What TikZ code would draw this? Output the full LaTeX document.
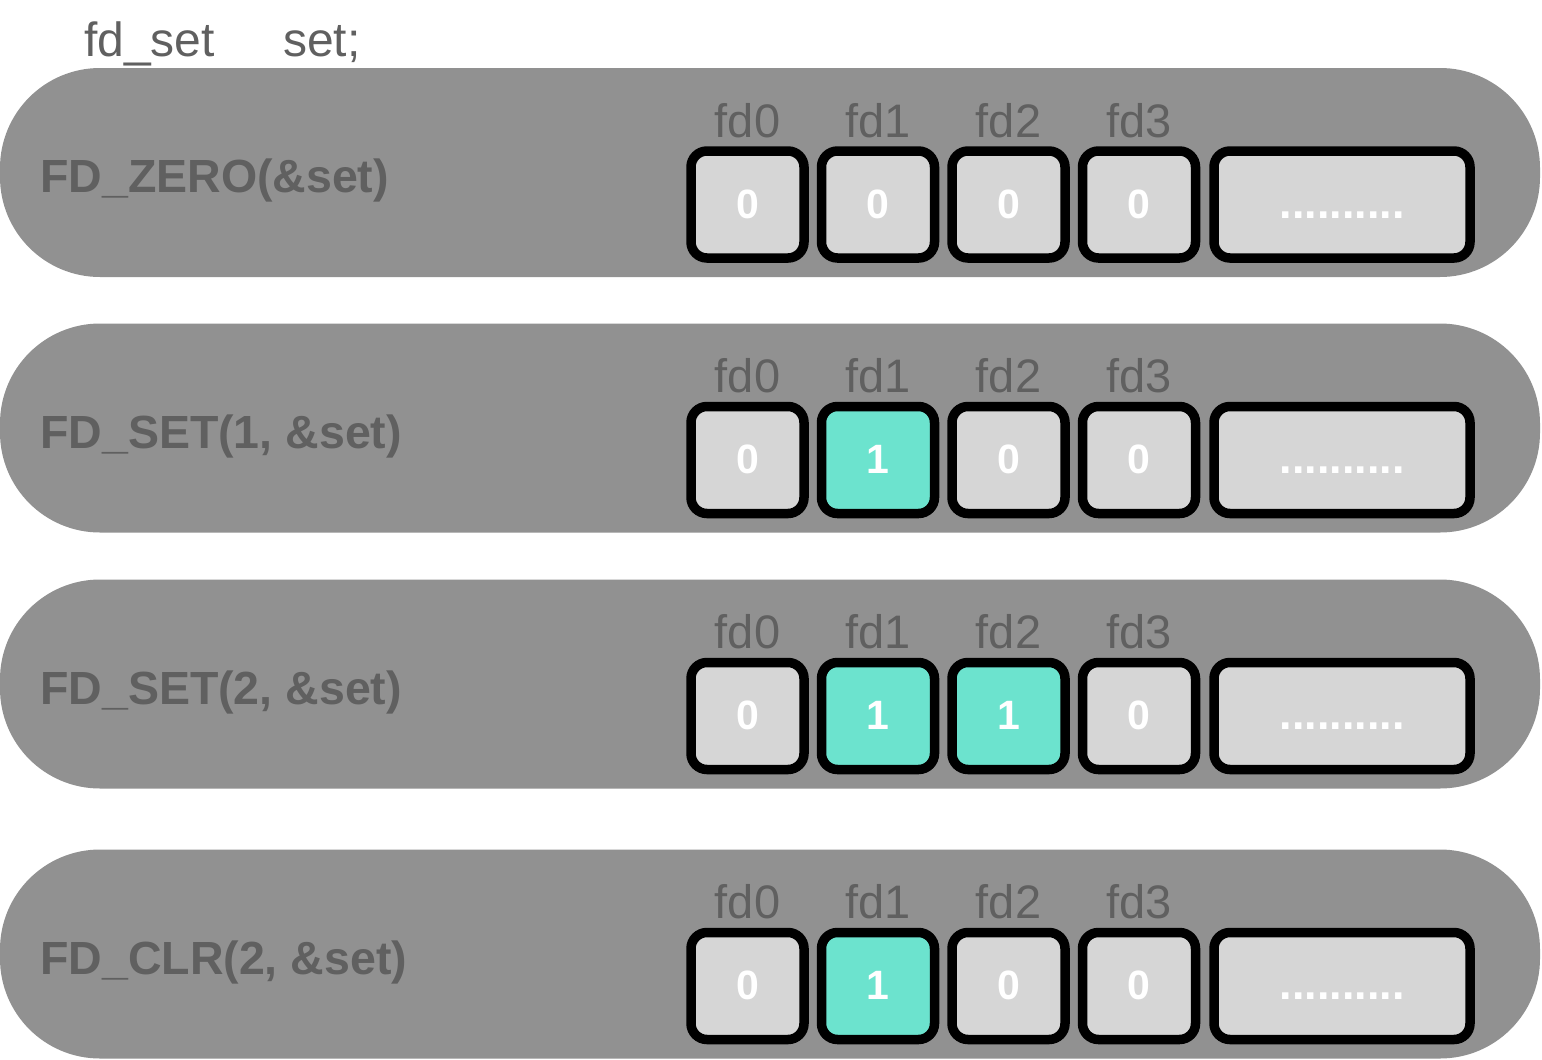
\documentclass[tikz,border=0pt]{standalone}
\usepackage{fontspec}
\setmainfont{Liberation Sans}
\usetikzlibrary{positioning}
\definecolor{bandgray}{HTML}{919191}
\definecolor{textgray}{HTML}{606060}
\definecolor{cellgray}{HTML}{D6D6D6}
\definecolor{setteal}{HTML}{6CE3CE}
\tikzset{
band/.style={fill=bandgray,rounded corners=100pt,minimum width=1540pt,minimum height=209pt,inner sep=0pt},
decl/.style={anchor=base west,text=textgray,font=\fontsize{48}{54}\selectfont,inner sep=0pt},
oplabel/.style={anchor=base west,text=textgray,font=\fontsize{46.5}{54}\selectfont\bfseries,inner sep=0pt},
fdlabel/.style={anchor=base,text=textgray,font=\fontsize{47}{54}\selectfont,inner sep=0pt},
cell/.style={draw=black,line width=9.5pt,rounded corners=16pt,minimum width=113pt,minimum height=107pt,text=white,font=\fontsize{41}{46}\selectfont\bfseries,text height=27pt,text depth=0pt,inner sep=0pt},
bigcell/.style={cell,minimum width=256pt,fill=cellgray,font=\fontsize{45}{50}\selectfont\bfseries},
bit0/.style={fill=cellgray},
bit1/.style={fill=setteal}
}
\begin{document}
\begin{tikzpicture}[x=1pt,y=-1pt,node distance=8pt]
\useasboundingbox (0,0) rectangle (1542,1060);
\node[decl] (decltype) at (84,56) {fd\_set};
\node[decl] (declvar) at (283,56) {set;};
\foreach \r/\yc/\op/\a/\b/\c/\d in {1/172.5/{FD\_ZERO(\&set)}/0/0/0/0,
  2/428/{FD\_SET(1, \&set)}/0/1/0/0,
  3/684/{FD\_SET(2, \&set)}/0/1/1/0,
  4/954/{FD\_CLR(2, \&set)}/0/1/0/0}{
  \node[band] (band\r) at (770,\yc) {};
  \node[oplabel] (op\r) at (40,\yc+20) {\op};
  \node[cell,bit\a] (c\r0) at (747.5,\yc+32) {\a};
  \node[cell,bit\b,right=of c\r0] (c\r1) {\b};
  \node[cell,bit\c,right=of c\r1] (c\r2) {\c};
  \node[cell,bit\d,right=of c\r2] (c\r3) {\d};
  \node[bigcell,right=9pt of c\r3] (more\r) {..........};
  \foreach \k in {0,...,3}
    \node[fdlabel] (fd\r\k) at ([yshift=9pt]c\r\k.north) {fd\k};
}
\end{tikzpicture}
\end{document}
